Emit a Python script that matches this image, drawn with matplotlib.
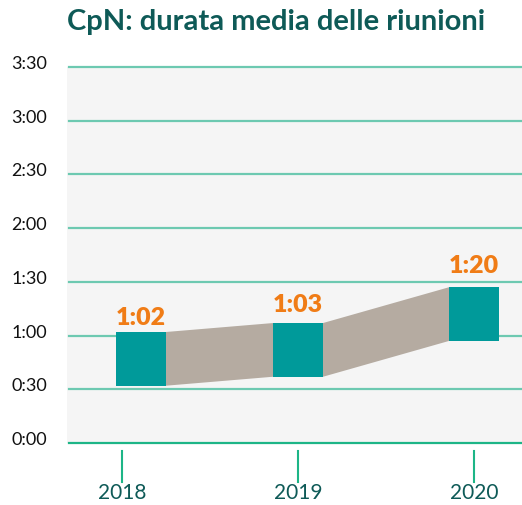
#!/usr/bin/env python3
"""
CpN: average meeting duration per year, floating boxes joined by bands
"""
import matplotlib
matplotlib.use("Agg")
import matplotlib.pyplot as plt

years = ["2018", "2019", "2020"]
labels = ["1:02", "1:03", "1:20"]
box_top = [62, 67, 87]      # minutes, top edge of each box as drawn
box_bottom = [32, 37, 57]   # minutes, bottom edge of each box as drawn
y_ticks = [0, 30, 60, 90, 120, 150, 180, 210]
y_labels = ["0:00", "0:30", "1:00", "1:30", "2:00", "2:30", "3:00", "3:30"]

TEAL = "#009a9a"
BAND = "#b5aba1"
GRID = "#6dc9b1"
BASE = "#1db587"
DARK = "#0e5a57"
ORANGE = "#f07c16"

plt.rcParams["font.family"] = ["Lato", "DejaVu Sans"]

fig = plt.figure(figsize=(5.22, 5.06), dpi=100)
ax = fig.add_axes([67 / 522, 1 - 444 / 506, 455 / 522, 376 / 506])
ax.set_facecolor("#f5f5f5")
ax.set_xlim(-0.3125, 2.2727)
ax.set_ylim(0, 210)
for s in ax.spines.values():
    s.set_visible(False)
ax.set_xticks([])
ax.set_yticks([])

# grid lines and y labels
for v, lab in zip(y_ticks, y_labels):
    ax.axhline(v, color=BASE if v == 0 else GRID, lw=1.6, xmin=2 / 455, zorder=1,
               clip_on=False)
    ax.text(-0.044, v + 2.2, lab, transform=ax.get_yaxis_transform(),
            ha="right", va="center", fontsize=13, color="#111111")

# boxes: 2018 box sits a bit right of its tick
pos = [0.108, 1, 2]
w = 0.284
for i in range(len(years) - 1):
    x0 = pos[i] + w / 2
    x1 = pos[i + 1] - w / 2
    ax.fill([x0, x1, x1, x0], [box_bottom[i], box_bottom[i + 1], box_top[i + 1], box_top[i]],
            color=BAND, lw=0, zorder=2)
for i in range(len(years)):
    ax.bar(pos[i], box_top[i] - box_bottom[i], bottom=box_bottom[i], width=w,
           color=TEAL, zorder=3)

label_gap = [6.5, 9, 10.5]
for i in range(len(years)):
    ax.text(pos[i], box_top[i] + label_gap[i] - 4.5, labels[i], ha="center", va="bottom",
            fontsize=18, fontweight="heavy", color=ORANGE, zorder=4)

# year ticks below the plot
tr = ax.get_xaxis_transform()
for i, y in enumerate(years):
    ax.plot([i, i], [-0.021, -0.104], color=BASE, lw=1.5, transform=tr, clip_on=False)
    ax.text(i, -0.13, y, transform=tr, ha="center", va="center",
            fontsize=15, color=DARK)

fig.text(276 / 522, 1 - 22 / 506, "CpN: durata media delle riunioni", ha="center",
         va="center", fontsize=21, fontweight="bold", color=DARK)

fig.savefig("out.png", dpi=100)
